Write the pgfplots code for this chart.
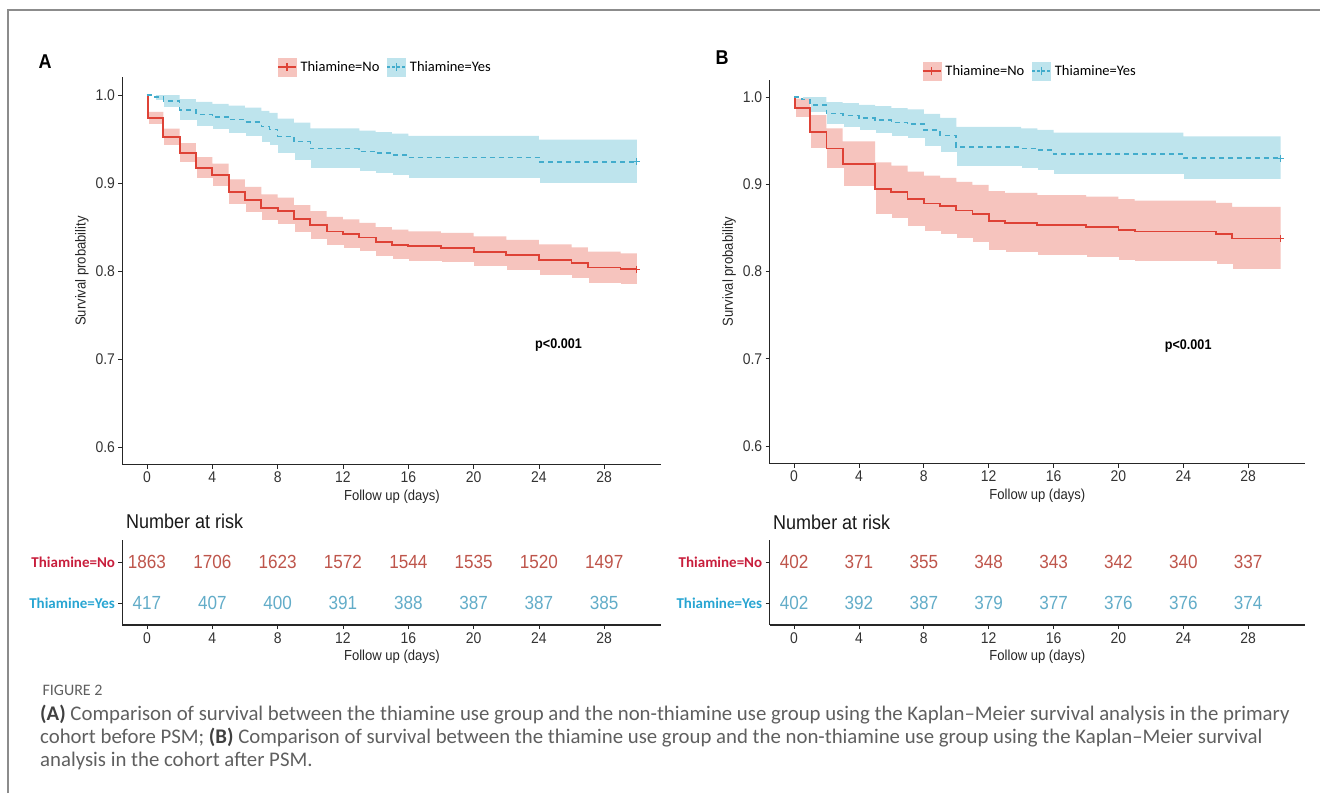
\documentclass[border=0pt]{standalone}
\usepackage{pgfplots}
\pgfplotsset{compat=1.18}
\usepackage{pgfplotstable}
\usepackage{fontspec}
\setmainfont{Liberation Sans}
\newfontfamily\chartfont{Liberation Sans}[FakeStretch=0.9]
\newfontfamily\carl{Carlito}
\definecolor{kmred}{RGB}{222,66,54}
\definecolor{kmblue}{RGB}{66,172,204}
\definecolor{bandred}{RGB}{246,196,190}
\definecolor{bandblue}{RGB}{190,228,237}
\definecolor{numred}{RGB}{190,85,75}
\definecolor{numblue}{RGB}{98,172,200}
\definecolor{labred}{RGB}{200,30,60}
\definecolor{labblue}{RGB}{40,165,210}
\definecolor{framec}{RGB}{140,140,140}
\definecolor{capc}{RGB}{95,95,95}

\pgfplotstableread{
t s lo hi
0 1.000 1.000 1.000
0.05 0.9735 0.9662 0.9808
1 0.952 0.9423 0.9617
2 0.934 0.9227 0.9453
3 0.917 0.9045 0.9295
4 0.909 0.8959 0.9221
5 0.890 0.8758 0.9042
6 0.881 0.8663 0.8957
7 0.872 0.8568 0.8872
8 0.868 0.8526 0.8834
9 0.859 0.8432 0.8748
10 0.852 0.8359 0.8681
11 0.845 0.8286 0.8614
12 0.842 0.8254 0.8586
13 0.838 0.8213 0.8547
14 0.833 0.8161 0.8499
15 0.830 0.8129 0.8471
16 0.828 0.8109 0.8451
18 0.826 0.8088 0.8432
20 0.822 0.8046 0.8394
22 0.818 0.8005 0.8355
24 0.8125 0.7948 0.8302
26 0.809 0.7911 0.8269
27 0.804 0.7860 0.8220
29 0.802 0.7839 0.8201
30 0.802 0.7839 0.8201
}\Ared

\pgfplotstableread{
t s lo hi
0 1.000 1.000 1.000
0.5 0.998 0.9937 1.000
1 0.993 0.9850 1.000
2 0.983 0.9706 0.9954
3 0.978 0.9639 0.9921
4 0.975 0.9600 0.9900
5 0.972 0.9562 0.9878
6 0.969 0.9524 0.9856
7 0.964 0.9461 0.9819
7.5 0.961 0.9424 0.9796
8 0.953 0.9327 0.9733
9 0.947 0.9255 0.9685
10 0.939 0.9160 0.9620
13 0.936 0.9125 0.9595
14 0.934 0.9102 0.9578
15 0.932 0.9078 0.9562
16 0.929 0.9044 0.9536
24 0.924 0.8986 0.9494
30 0.924 0.8986 0.9494
}\Ablue

\pgfplotstableread{
t s lo hi
0 1.000 1.000 1.000
0.05 0.987 0.9759 0.9981
1 0.960 0.9408 0.9792
2 0.941 0.9180 0.9640
3 0.923 0.8969 0.9491
5 0.895 0.8650 0.9250
6 0.891 0.8605 0.9215
7 0.883 0.8516 0.9144
8 0.878 0.8460 0.9100
9 0.875 0.8427 0.9073
10 0.870 0.8371 0.9029
11 0.866 0.8327 0.8993
12 0.858 0.8239 0.8921
13 0.856 0.8217 0.8903
15 0.853 0.8184 0.8876
18 0.851 0.8162 0.8858
20 0.848 0.8129 0.8831
21 0.846 0.8107 0.8813
26 0.843 0.8074 0.8786
27 0.838 0.8020 0.8740
30 0.838 0.8020 0.8740
}\Bred

\pgfplotstableread{
t s lo hi
0 1.000 1.000 1.000
0.5 0.997 0.9917 1.000
1 0.991 0.9818 1.000
2 0.981 0.9677 0.9943
3 0.979 0.9650 0.9930
4 0.976 0.9610 0.9910
5 0.974 0.9584 0.9896
6 0.971 0.9546 0.9874
7 0.969 0.9521 0.9859
8 0.962 0.9433 0.9807
9 0.956 0.9360 0.9760
10 0.943 0.9203 0.9657
14 0.941 0.9180 0.9640
15 0.939 0.9156 0.9624
16 0.935 0.9109 0.9591
24 0.930 0.9051 0.9549
30 0.930 0.9051 0.9549
}\Bblue

\pgfplotstableread{
t y n
0 0.74 1863
4 0.74 1706
8 0.74 1623
12 0.74 1572
16 0.74 1544
20 0.74 1535
24 0.74 1520
28 0.74 1497
}\ArNo
\pgfplotstableread{
t y n
0 0.26 417
4 0.26 407
8 0.26 400
12 0.26 391
16 0.26 388
20 0.26 387
24 0.26 387
28 0.26 385
}\ArYes
\pgfplotstableread{
t y n
0 0.74 402
4 0.74 371
8 0.74 355
12 0.74 348
16 0.74 343
20 0.74 342
24 0.74 340
28 0.74 337
}\BrNo
\pgfplotstableread{
t y n
0 0.26 402
4 0.26 392
8 0.26 387
12 0.26 379
16 0.26 377
20 0.26 376
24 0.26 376
28 0.26 374
}\BrYes

\pgfplotsset{
  kmaxis/.style={
    scale only axis, axis x line*=bottom, axis y line*=left,
    axis line style={line width=1.1pt, black!85},
    xmin=-1.5, xmax=31.5, xtick={0,4,...,28},
    tick align=outside, major tick length=4pt,
    tick style={line width=0.8pt, black!85},
    tick label style={font=\chartfont\fontsize{15.5}{18}\selectfont, text=black!80},
    /pgf/number format/assume math mode=true,
    label style={font=\chartfont\fontsize{14.5}{17}\selectfont, text=black!85},
    axis on top,
  },
  mainaxis/.style={
    kmaxis, ymin=0.58, ymax=1.02, ytick={0.6,0.7,0.8,0.9,1.0},
    yticklabel style={/pgf/number format/.cd, fixed, fixed zerofill, precision=1},
    xlabel={Follow up (days)}, ylabel={Survival probability},
    legend style={anchor=center, legend columns=2, draw=none, fill=none,
      font=\carl\fontsize{14.5}{17}\selectfont,
      /tikz/every odd column/.append style={column sep=2pt},
      /tikz/every even column/.append style={column sep=5pt}},
    legend cell align=left, clip=true,
  },
  riskaxis/.style={
    kmaxis, ymin=0, ymax=1, ytick={0.26,0.74}, clip=false,
    yticklabels={{\color{labblue}Thiamine=Yes},{\color{labred}Thiamine=No}},
    yticklabel style={font=\carl\bfseries\fontsize{15}{17}\selectfont},
    xlabel={Follow up (days)},
  },
  risknums/.style={draw=none, mark=none, nodes near coords, point meta=explicit symbolic,
    every node near coord/.append style={anchor=center, font=\chartfont\fontsize{19}{21}\selectfont, text=#1}},
  bandfill/.style={const plot, fill=#1, draw=none, forget plot},
  whitefill/.style={const plot, fill=white, draw=white, line width=1.6pt, forget plot},
  redline/.style={const plot, kmred, line width=1.8pt, forget plot},
  blueline/.style={const plot, kmblue, line width=1.6pt, dash pattern=on 5pt off 4pt, forget plot},
  legred/.style={legend image code/.code={
    \fill[bandred] (0pt,-9pt) rectangle (18pt,9pt);
    \draw[kmred, line width=1.5pt] (0pt,0pt) -- (18pt,0pt) (9pt,-4pt) -- (9pt,4pt);}},
  legblue/.style={legend image code/.code={
    \fill[bandblue] (0pt,-9pt) rectangle (18pt,9pt);
    \draw[kmblue, line width=1.5pt, dash pattern=on 3pt off 2pt] (0pt,0pt) -- (18pt,0pt);
    \draw[kmblue, line width=1.2pt] (9pt,-4pt) -- (9pt,4pt);}},
}

\begin{document}
\begin{tikzpicture}
\path[use as bounding box] (0pt,0pt) rectangle (1320pt,-793pt);
\draw[framec, line width=1.5pt] (8pt,-793pt) -- (8pt,-10pt) -- (1320pt,-10pt);

\node[font=\chartfont\bfseries\fontsize{20}{22}\selectfont] at (45pt,-62pt) {A};
\node[font=\chartfont\bfseries\fontsize{20}{22}\selectfont] at (722pt,-58pt) {B};

% ---------- Panel A main ----------
\begin{axis}[mainaxis, at={(122.5pt,-464.6pt)}, anchor=south west,
  width=538.9pt, height=387.2pt, legend style={at={(0.487,1.027)}}]
\addlegendimage{legred}\addlegendentry{Thiamine=No}
\addlegendimage{legblue}\addlegendentry{Thiamine=Yes}
\addplot[bandfill=bandblue] table[x=t,y=hi]{\Ablue} \closedcycle;
\addplot[whitefill] table[x=t,y=lo]{\Ablue} \closedcycle;
\addplot[bandfill=bandred] table[x=t,y=hi]{\Ared} \closedcycle;
\addplot[whitefill] table[x=t,y=lo]{\Ared} \closedcycle;
\addplot[redline] table[x=t,y=s]{\Ared};
\addplot[blueline] table[x=t,y=s]{\Ablue};
\addplot[only marks, mark=+, mark size=3.5pt, kmred, line width=1pt, forget plot] coordinates {(30,0.802)};
\addplot[only marks, mark=+, mark size=3.5pt, kmblue, line width=1pt, forget plot] coordinates {(30,0.924)};
\node[font=\chartfont\bfseries\fontsize{14}{16}\selectfont] at (axis cs:25.2,0.716) {p<0.001};
\end{axis}

% ---------- Panel B main ----------
\begin{axis}[mainaxis, at={(769.7pt,-463.5pt)}, anchor=south west,
  width=535.3pt, height=383.9pt, legend style={at={(0.486,1.022)}}]
\addlegendimage{legred}\addlegendentry{Thiamine=No}
\addlegendimage{legblue}\addlegendentry{Thiamine=Yes}
\addplot[bandfill=bandblue] table[x=t,y=hi]{\Bblue} \closedcycle;
\addplot[whitefill] table[x=t,y=lo]{\Bblue} \closedcycle;
\addplot[bandfill=bandred] table[x=t,y=hi]{\Bred} \closedcycle;
\addplot[whitefill] table[x=t,y=lo]{\Bred} \closedcycle;
\addplot[redline] table[x=t,y=s]{\Bred};
\addplot[blueline] table[x=t,y=s]{\Bblue};
\addplot[only marks, mark=+, mark size=3.5pt, kmred, line width=1pt, forget plot] coordinates {(30,0.838)};
\addplot[only marks, mark=+, mark size=3.5pt, kmblue, line width=1pt, forget plot] coordinates {(30,0.930)};
\node[font=\chartfont\bfseries\fontsize{14}{16}\selectfont] at (axis cs:24.3,0.7146) {p<0.001};
\end{axis}

% ---------- Risk tables ----------
\node[anchor=west, font=\chartfont\fontsize{20}{22}\selectfont, text=black!90] at (122.5pt,-521pt) {Number at risk};
\node[anchor=west, font=\chartfont\fontsize{20}{22}\selectfont, text=black!90] at (769.7pt,-522pt) {Number at risk};

\begin{axis}[riskaxis, at={(122.5pt,-625pt)}, anchor=south west, width=538.9pt, height=85pt]
\addplot[risknums=numred] table[x=t,y=y,meta=n]{\ArNo};
\addplot[risknums=numblue] table[x=t,y=y,meta=n]{\ArYes};
\end{axis}
\begin{axis}[riskaxis, at={(769.7pt,-625pt)}, anchor=south west, width=535.3pt, height=85pt]
\addplot[risknums=numred] table[x=t,y=y,meta=n]{\BrNo};
\addplot[risknums=numblue] table[x=t,y=y,meta=n]{\BrYes};
\end{axis}

% ---------- Caption ----------
\node[anchor=west, font=\carl\fontsize{16}{18}\selectfont, text=capc] at (39pt,-690pt) {FIGURE 2};
\begin{scope}[every node/.style={anchor=west, font=\carl\fontsize{20.8}{23}\selectfont, text=capc, inner sep=0pt}]
\node at (40pt,-715pt) {\textbf{\color{black!75}(A)} Comparison of survival between the thiamine use group and the non-thiamine use group using the Kaplan–Meier survival analysis in the primary};
\node at (40pt,-738pt) {cohort before PSM; \textbf{\color{black!75}(B)} Comparison of survival between the thiamine use group and the non-thiamine use group using the Kaplan–Meier survival};
\node at (40pt,-761pt) {analysis in the cohort after PSM.};
\end{scope}
\end{tikzpicture}
\end{document}
